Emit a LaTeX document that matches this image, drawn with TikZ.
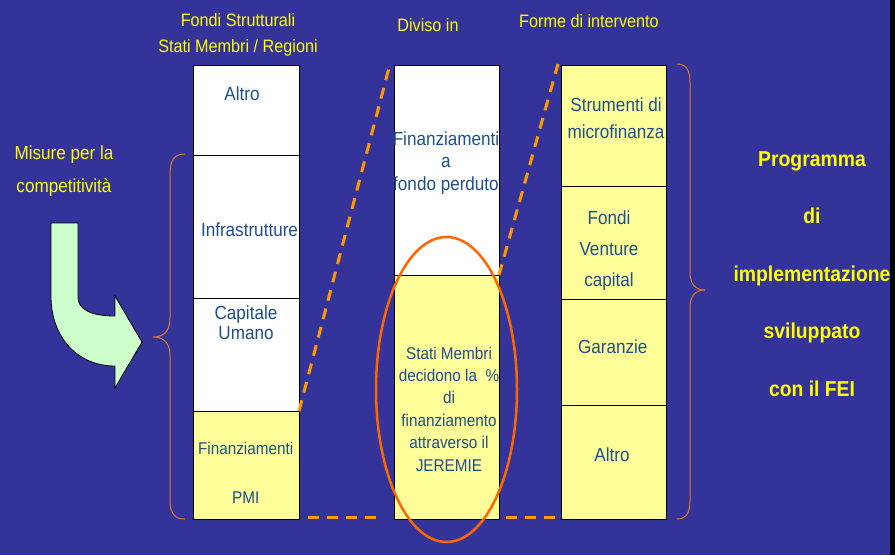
\documentclass[tikz,border=0pt]{standalone}
\usepackage{fontspec}
\setmainfont{Liberation Sans}[FakeStretch=0.9]
\definecolor{bg}{HTML}{333399}
\definecolor{txtblue}{HTML}{1F4E8F}
\definecolor{hdr}{HTML}{FFFF00}
\definecolor{boxy}{HTML}{FFFF99}
\definecolor{arrowg}{HTML}{CCFFCC}
\definecolor{dashor}{HTML}{FF9900}
\definecolor{ellor}{HTML}{FF6600}
\definecolor{bracec}{HTML}{E07A20}
\tikzset{
  cell/.style={draw=black, line width=1pt, inner sep=0pt, outer sep=0pt, anchor=north west},
  wcell/.style={cell, fill=white},
  ycell/.style={cell, fill=boxy},
  lbl/.style={text=txtblue, align=center, inner sep=0pt},
  hdrtxt/.style={text=hdr, align=center, inner sep=0pt},
  dashc/.style={draw=dashor, line width=3pt, dash pattern=on 11pt off 8pt},
  bracel/.style={draw=bracec, line width=1pt},
}
\begin{document}
\begin{tikzpicture}[x=1pt,y=-1pt]
\useasboundingbox (0,0) rectangle (895,555);
\fill[bg] (0,0) rectangle (895,555);
\fill[black] (890,0) rectangle (895,555);

% headers
\node[hdrtxt, font=\fontsize{18}{26.3}\selectfont] (h1) at (238,35) {Fondi Strutturali\\Stati Membri / Regioni};
\node[hdrtxt, font=\fontsize{18}{26}\selectfont] (h2) at (428,25) {Diviso in};
\node[hdrtxt, font=\fontsize{18}{26}\selectfont] (h3) at (589,21) {Forme di intervento};
\node[hdrtxt, font=\fontsize{19}{33}\selectfont] (m1) at (64,171.5) {Misure per la\\competitività};

% column 1
\node[wcell, minimum width=106pt, minimum height=90pt] (a1) at (193,65) {};
\node[wcell, minimum width=106pt, minimum height=143pt] (a2) at (193,155) {};
\node[wcell, minimum width=106pt, minimum height=113pt] (a3) at (193,298) {};
\node[ycell, minimum width=106pt, minimum height=108pt] (a4) at (193,411) {};
% column 2
\node[wcell, minimum width=105pt, minimum height=210pt] (b1) at (394,65) {};
\node[ycell, minimum width=105pt, minimum height=244pt] (b2) at (394,275) {};
% column 3
\node[ycell, minimum width=105pt, minimum height=121pt] (c1) at (561,65) {};
\node[ycell, minimum width=105pt, minimum height=113pt] (c2) at (561,186) {};
\node[ycell, minimum width=105pt, minimum height=106pt] (c3) at (561,299) {};
\node[ycell, minimum width=105pt, minimum height=114pt] (c4) at (561,405) {};

% labels
\node[lbl, font=\fontsize{19}{22}\selectfont] (ta1) at (242,94) {Altro};
\node[lbl, font=\fontsize{19}{22}\selectfont] (ta2) at (249.5,230) {Infrastrutture};
\node[lbl, font=\fontsize{19}{20}\selectfont] (ta3) at (246,323) {Capitale\\Umano};
\node[lbl, font=\fontsize{17}{49}\selectfont] (ta4) at (245.7,472.5) {Finanziamenti\\PMI};
\node[lbl, font=\fontsize{19}{22.5}\selectfont] (tb1) at (446,163) {Finanziamenti\\a\\fondo perduto};
\node[lbl, font=\fontsize{17}{22.4}\selectfont] (tb2) at (449,409) {Stati Membri\\decidono la\ \ \%\\di\\finanziamento\\attraverso il\\JEREMIE};
\node[lbl, font=\fontsize{19}{26.7}\selectfont] (tc1) at (616,118.3) {Strumenti di\\microfinanza};
\node[lbl, font=\fontsize{19}{31.3}\selectfont] (tc2) at (609,250.5) {Fondi\\Venture\\capital};
\node[lbl, font=\fontsize{19}{22}\selectfont] (tc3) at (612.7,346.7) {Garanzie};
\node[lbl, font=\fontsize{19}{22}\selectfont] (tc4) at (612,455) {Altro};

% right text
\node[hdrtxt, font=\bfseries\fontsize{21.5}{57.6}\selectfont] (r1) at (812,274) {Programma\\di\\implementazione\\sviluppato\\con il FEI};

% dashed connectors
\coordinate (d1e) at (390,64);
\coordinate (d2e) at (558,64);
\coordinate (d3s) at (308,517);
\coordinate (d3e) at (384,517);
\coordinate (d4s) at (506,517);
\coordinate (d4e) at (556,517);
\draw[dashc] (a4.north east) -- (d1e);
\draw[dashc] (b1.south east) -- (d2e);
\draw[dashc] (d3s) -- (d3e);
\draw[dashc] (d4s) -- (d4e);

% ellipse
\draw[ellor, line width=2.5pt] (446.5,389.5) ellipse [x radius=70.5pt, y radius=152.5pt];

% braces
\draw[bracel] (185,154) .. controls (174,154) and (170,160) .. (170,175) -- (170,318) .. controls (170,331) and (164,337) .. (153,337) .. controls (164,337) and (170,343) .. (170,356) -- (170,499) .. controls (170,513) and (174,519) .. (185,519);
\draw[bracel] (677,64) .. controls (686,64) and (690,70) .. (690,82) -- (690,272) .. controls (690,284) and (695,290) .. (705,290) .. controls (695,290) and (690,296) .. (690,308) -- (690,501) .. controls (690,513) and (686,519) .. (677,519);

% curved arrow
\draw[black, line width=0.8pt, fill=arrowg] (51,223) -- (78,223) -- (78,297) .. controls (78,309) and (90,316) .. (115,316) -- (115,296) -- (142,342) -- (115,388) -- (115,366) .. controls (78,366) and (51,338) .. (51,296) -- cycle;
\end{tikzpicture}
\end{document}
